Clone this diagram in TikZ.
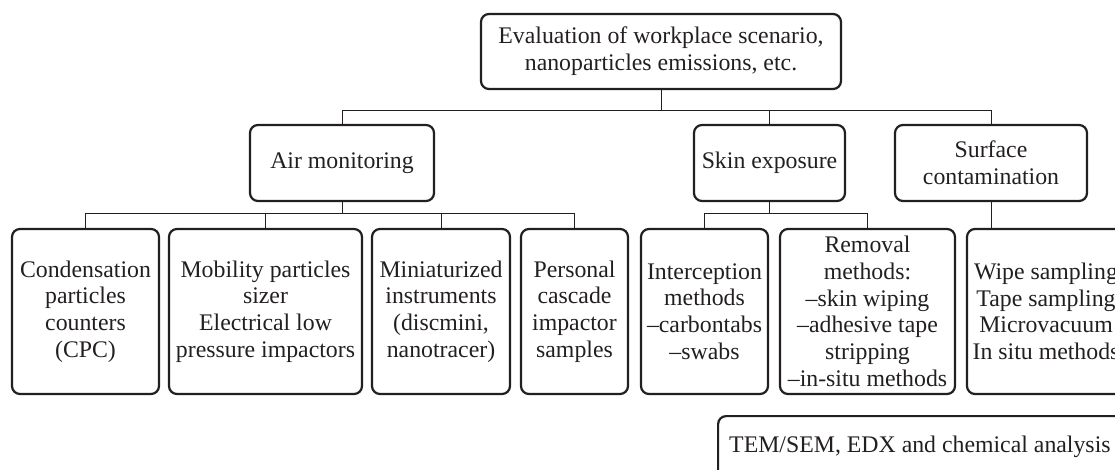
\documentclass[tikz,border=0pt]{standalone}
\usepackage{fontspec}
\setmainfont{Liberation Serif}
\definecolor{ink}{HTML}{231F20}
\begin{document}
\begin{tikzpicture}[x=1pt,y=-1pt,
  box/.style={draw=ink,line width=2.2pt,rounded corners=8pt,align=center,inner sep=0pt,
    text=ink,font=\fontsize{23.8}{26.7}\selectfont},
  conn/.style={draw=ink,line width=1pt}]
\useasboundingbox (0,0) rectangle (1115,470);
\clip (0,0) rectangle (1115,470);
\node[box,minimum width=360pt,minimum height=75pt] (top) at (661,51.5) {Evaluation of workplace scenario,\\nanoparticles emissions, etc.};
\node[box,minimum width=184pt,minimum height=76pt] (air) at (342,163) {Air monitoring};
\node[box,minimum width=151pt,minimum height=76pt] (skin) at (769.5,163) {Skin exposure};
\node[box,minimum width=192pt,minimum height=76pt] (surf) at (991,163) {Surface\\contamination};
\node[box,minimum width=147pt,minimum height=165pt] (c1) at (85.5,311.5) {Condensation\\particles\\counters\\(CPC)};
\node[box,minimum width=193pt,minimum height=165pt] (c2) at (265.5,311.5) {Mobility particles\\sizer\\Electrical low\\pressure impactors};
\node[box,minimum width=138pt,minimum height=165pt] (c3) at (441,311.5) {Miniaturized\\instruments\\(discmini,\\nanotracer)};
\node[box,minimum width=107pt,minimum height=165pt] (c4) at (574.5,311.5) {Personal\\cascade\\impactor\\samples};
\node[box,minimum width=127pt,minimum height=165pt] (c5) at (704.5,311.5) {Interception\\methods\\--carbontabs\\--swabs};
\node[box,minimum width=175pt,minimum height=165pt] (c6) at (867.5,311.5) {Removal\\methods:\\--skin wiping\\--adhesive tape\\stripping\\--in-situ methods};
\node[box,minimum width=158pt,minimum height=165pt] (c7) at (1046,311.5) {Wipe sampling\\Tape sampling\\Microvacuum\\In situ methods};
\node[box,minimum width=430pt,minimum height=90pt,anchor=north west] (tem) at (717,415) {};
\node[anchor=base west,inner sep=0pt,text=ink,font=\fontsize{23.8}{26.7}\selectfont] (temtext) at (729,452) {TEM/SEM, EDX and chemical analysis};
\coordinate (bus1) at (0,111);
\coordinate (bus2) at (0,214);
\draw[conn] (top.south) -- (top.south |- bus1);
\draw[conn] (air.north) |- (bus1 -| surf.north) -- (surf.north);
\draw[conn] (skin.north) -- (skin.north |- bus1);
\draw[conn] (air.south) -- (air.south |- bus2);
\draw[conn] (c1.north) |- (bus2 -| c4.north) -- (c4.north);
\draw[conn] (c2.north) -- (c2.north |- bus2);
\draw[conn] (c3.north) -- (c3.north |- bus2);
\draw[conn] (skin.south) -- (skin.south |- bus2);
\draw[conn] (c5.north) |- (bus2 -| c6.north) -- (c6.north);
\draw[conn] (surf.south) -- (surf.south |- c7.north);
\end{tikzpicture}
\end{document}
